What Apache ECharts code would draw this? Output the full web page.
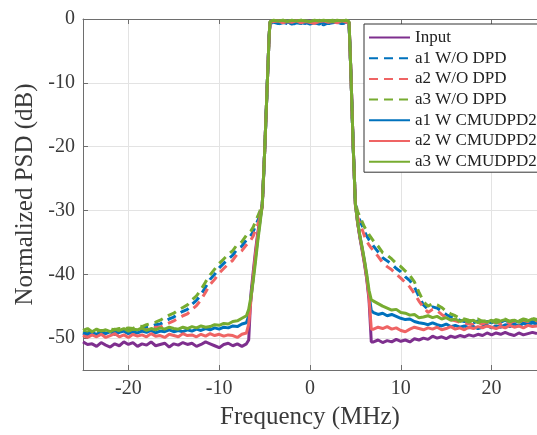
<!DOCTYPE html>
<html>
<head>
<meta charset="utf-8">
<script src="https://cdn.jsdelivr.net/npm/echarts@6/dist/echarts.min.js"></script>
<style>
html,body{margin:0;padding:0;background:#fff;}
#chart{width:537px;height:435px;}
</style>
</head>
<body>
<div id="chart"></div>
<script>
// Frequency grid (MHz)
var freq = [
 -25,-24.5,-24,-23.5,-23,-22.5,-22,-21.5,-21,-20.5,-20,-19.5,-19,-18.5,-18,-17.5,-17,-16.5,-16,-15.5,-15,-14.5,-14,-13.5,-13,-12.5,-12,-11.5,-11,-10.5,-10,-9.5,-9,-8.5,-8,-7.5,-7,
 -6.75,-6.5,-6.25,-6,-5.75,-5.5,-5.25,-5,-4.75,-4.5,-4.4,
 -4,-3.5,-3,-2.5,-2,-1.5,-1,-0.5,0,0.5,1,1.5,2,2.5,3,3.5,4,
 4.3,4.5,4.75,5,5.25,5.5,5.75,6,6.25,6.5,6.75,
 7,7.5,8,8.5,9,9.5,10,10.5,11,11.5,12,12.5,13,13.5,14,14.5,15,15.5,16,16.5,17,17.5,18,18.5,19,19.5,20,20.5,21,21.5,22,22.5,23,23.5,24,24.5,25
];

var seriesNames = ['Input','a1 W/O DPD','a2 W/O DPD','a3 W/O DPD','a1 W CMUDPD2','a2 W CMUDPD2','a3 W CMUDPD2'];
var xTicks = [-20,-10,0,10,20];
var yTicks = [-50,-40,-30,-20,-10,0];

var psdInput = [
 -50.6,-51.0,-50.9,-51.3,-50.7,-51.1,-51.4,-50.9,-51.2,-50.6,-51.0,-50.7,-51.3,-50.9,-51.1,-50.6,-51.2,-51.0,-50.8,-51.4,-50.9,-51.1,-50.7,-51.0,-50.8,-51.3,-51.0,-50.6,-50.9,-51.2,-51.5,-51.0,-50.8,-51.2,-50.9,-51.3,-50.9,
 -50.3,-43.0,-39.6,-36.3,-33.5,-31.2,-28.9,-21.0,-11.8,-2.6,-0.5,
 -0.3,-0.4,-0.3,-0.5,-0.4,-0.3,-0.4,-0.5,-0.3,-0.4,-0.3,-0.5,-0.4,-0.3,-0.4,-0.3,-0.4,
 -0.6,-8.2,-19.7,-29.0,-32.0,-34.3,-36.3,-38.4,-40.8,-44.0,-50.6,
 -50.6,-50.3,-50.7,-50.4,-50.6,-50.2,-50.5,-50.3,-50.6,-50.1,-50.3,-50.0,-50.2,-49.7,-50.0,-49.8,-50.1,-49.7,-49.9,-49.6,-49.8,-49.5,-49.7,-49.4,-49.6,-49.2,-49.5,-49.2,-49.4,-49.1,-49.4,-49.6,-49.2,-49.5,-49.3,-49.1,-49.3
];
var psdA1NoDpd = [
 -49.2,-49.4,-49.0,-49.3,-49.1,-49.2,-48.9,-49.1,-48.8,-49.0,-48.7,-48.8,-48.5,-48.6,-48.3,-48.2,-47.9,-47.8,-47.4,-47.0,-46.7,-46.2,-45.8,-45.5,-44.7,-44.1,-43.2,-42.0,-40.8,-40.0,-39.0,-38.3,-37.6,-37.0,-36.0,-35.6,-34.6,
 -34.3,-33.9,-33.3,-32.4,-31.6,-30.5,-29.2,-21.0,-11.8,-2.6,-0.6,
 -0.6,-0.8,-0.5,-0.7,-0.9,-0.6,-0.7,-0.5,-0.8,-0.6,-0.7,-0.9,-0.6,-0.8,-0.5,-0.7,-0.6,
 -0.6,-8.2,-19.7,-29.0,-30.6,-31.6,-32.4,-33.3,-34.0,-34.6,-35.1,
 -35.6,-36.5,-37.4,-37.9,-38.4,-39.1,-39.6,-40.4,-41.0,-42.0,-43.5,-44.8,-45.5,-45.1,-45.3,-45.8,-46.3,-46.7,-46.9,-47.2,-47.4,-47.5,-47.6,-47.3,-47.7,-47.4,-47.6,-47.3,-47.5,-47.2,-47.6,-47.3,-47.5,-47.1,-47.4,-47.2,-47.3
];
var psdA2NoDpd = [
 -49.5,-49.7,-49.3,-49.6,-49.4,-49.5,-49.2,-49.4,-49.1,-49.3,-49.0,-49.1,-48.8,-48.9,-48.7,-48.6,-48.3,-48.3,-47.9,-47.6,-47.3,-46.9,-46.5,-46.2,-45.5,-44.9,-44.0,-42.8,-41.6,-40.8,-39.8,-39.1,-38.4,-37.8,-36.8,-36.3,-35.4,
 -35.0,-34.6,-34.0,-33.0,-32.2,-31.0,-29.5,-21.0,-11.8,-2.6,-0.5,
 -0.4,-0.6,-0.3,-0.5,-0.7,-0.4,-0.3,-0.6,-0.5,-0.3,-0.4,-0.6,-0.3,-0.5,-0.4,-0.6,-0.3,
 -0.5,-8.2,-19.7,-29.2,-31.0,-32.2,-33.0,-34.0,-34.8,-35.4,-35.9,
 -36.3,-37.2,-38.2,-38.8,-39.3,-40.0,-40.6,-41.3,-42.0,-43.0,-44.2,-45.2,-46.0,-45.5,-45.7,-46.3,-46.8,-47.1,-47.3,-47.5,-47.7,-47.8,-47.9,-47.6,-47.9,-47.7,-47.9,-47.5,-47.8,-47.4,-47.8,-47.5,-47.7,-47.3,-47.6,-47.4,-47.5
];
var psdA3NoDpd = [
 -48.9,-49.1,-48.7,-49.0,-48.8,-48.8,-48.6,-48.7,-48.5,-48.6,-48.4,-48.5,-48.1,-48.2,-47.9,-47.7,-47.5,-47.2,-46.8,-46.4,-46.1,-45.6,-45.2,-44.8,-44.0,-43.4,-42.4,-41.2,-40.1,-39.2,-38.3,-37.6,-36.9,-36.3,-35.3,-34.9,-33.9,
 -33.6,-33.2,-32.6,-31.7,-30.9,-30.0,-28.8,-21.0,-11.8,-2.6,-0.4,
 -0.3,-0.5,-0.2,-0.4,-0.3,-0.5,-0.2,-0.4,-0.3,-0.5,-0.2,-0.4,-0.3,-0.2,-0.4,-0.3,-0.2,
 -0.4,-8.2,-19.7,-28.8,-30.2,-31.0,-31.8,-32.6,-33.2,-33.8,-34.3,
 -34.8,-35.6,-36.6,-37.0,-37.6,-38.3,-38.8,-39.5,-40.2,-41.2,-42.8,-44.3,-45.0,-44.6,-44.8,-45.2,-45.8,-46.2,-46.5,-46.9,-47.0,-47.2,-47.3,-47.0,-47.4,-47.2,-47.5,-47.1,-47.3,-47.0,-47.4,-47.1,-47.3,-47.0,-47.2,-46.9,-47.1
];
var psdA1Dpd = [
 -49.2,-49.4,-49.0,-49.5,-49.1,-49.3,-49.0,-49.4,-49.1,-48.9,-49.3,-49.0,-49.2,-48.9,-49.1,-48.8,-49.2,-48.9,-49.0,-48.7,-49.0,-48.8,-49.0,-48.7,-48.9,-48.6,-48.8,-48.5,-48.7,-48.4,-48.6,-48.3,-48.4,-48.1,-48.2,-47.8,-47.6,
 -46.5,-43.8,-40.5,-37.3,-34.3,-31.6,-28.9,-21.0,-11.8,-2.6,-0.5,
 -0.5,-0.7,-0.6,-0.4,-0.8,-0.5,-0.6,-0.7,-0.4,-0.6,-0.8,-0.5,-0.7,-0.6,-0.4,-0.7,-0.5,
 -0.5,-8.2,-19.7,-29.0,-31.9,-34.1,-36.0,-38.0,-40.4,-43.2,-45.7,
 -46.0,-46.3,-46.1,-46.5,-46.3,-46.6,-46.9,-47.1,-47.0,-47.4,-47.6,-47.7,-47.9,-47.6,-47.9,-48.1,-47.8,-48.2,-48.0,-48.3,-48.1,-48.4,-48.2,-48.5,-48.3,-48.0,-48.4,-48.1,-48.3,-47.9,-48.2,-47.8,-48.1,-47.7,-47.9,-47.6,-47.8
];
var psdA2Dpd = [
 -49.6,-49.9,-49.5,-49.8,-49.4,-49.9,-49.6,-49.3,-49.8,-49.5,-49.9,-49.4,-49.7,-49.5,-49.8,-49.3,-49.7,-49.6,-49.9,-49.4,-49.6,-49.8,-49.3,-49.6,-49.5,-49.8,-49.4,-49.7,-49.3,-49.6,-49.4,-49.7,-49.5,-49.6,-49.9,-49.4,-49.2,
 -47.8,-44.0,-40.2,-36.8,-33.9,-31.4,-28.9,-21.0,-11.8,-2.6,-0.5,
 -0.4,-0.3,-0.6,-0.4,-0.5,-0.3,-0.6,-0.4,-0.5,-0.7,-0.4,-0.3,-0.5,-0.4,-0.6,-0.3,-0.5,
 -0.5,-8.2,-19.7,-29.0,-32.0,-34.2,-36.1,-38.2,-40.6,-43.6,-48.6,
 -48.6,-48.3,-48.5,-48.2,-48.6,-48.4,-48.8,-49.0,-48.6,-48.3,-48.5,-48.7,-48.4,-48.6,-48.3,-48.7,-48.5,-48.2,-48.6,-48.4,-48.7,-48.3,-48.5,-48.2,-48.4,-48.1,-48.3,-48.5,-48.2,-48.4,-48.0,-48.3,-48.1,-48.4,-48.0,-48.2,-48.1
];
var psdA3Dpd = [
 -48.8,-48.5,-49.0,-48.6,-48.9,-48.7,-49.0,-48.6,-48.8,-48.5,-48.9,-48.6,-48.7,-48.4,-48.8,-48.5,-48.7,-48.4,-48.6,-48.3,-48.5,-48.6,-48.3,-48.5,-48.2,-48.4,-48.1,-48.3,-48.2,-47.9,-48.0,-47.7,-47.8,-47.4,-47.3,-46.9,-46.5,
 -45.5,-43.5,-41.0,-38.0,-34.8,-32.0,-29.0,-21.0,-11.8,-2.6,-0.4,
 -0.2,-0.3,-0.2,-0.4,-0.2,-0.3,-0.2,-0.3,-0.4,-0.2,-0.3,-0.2,-0.3,-0.4,-0.2,-0.3,-0.2,
 -0.4,-8.2,-19.7,-29.0,-31.8,-34.0,-35.8,-37.8,-40.0,-42.5,-44.0,
 -44.2,-44.6,-45.0,-45.3,-45.6,-45.5,-46.0,-46.1,-46.4,-46.3,-46.8,-46.7,-46.5,-46.8,-46.6,-47.0,-46.8,-47.2,-47.0,-47.4,-47.1,-47.5,-47.2,-47.6,-47.3,-47.5,-47.2,-47.6,-47.3,-47.1,-47.4,-47.2,-47.5,-47.1,-47.3,-47.0,-47.2
];

var seriesValues = [psdInput, psdA1NoDpd, psdA2NoDpd, psdA3NoDpd, psdA1Dpd, psdA2Dpd, psdA3Dpd];
var seriesColors = ['#7E2F8E','#0072BD','#EF6464','#77AC30','#0072BD','#EF6464','#77AC30'];
var seriesDashed = [false,true,true,true,false,false,false];

var FONT = "'Liberation Serif','Times New Roman',serif";
var TXT = '#3a3a3a';
var AX = '#6e6e6e';

function pairs(vals){ return freq.map(function(x,i){ return [x, vals[i]]; }); }

var series = seriesNames.map(function(n,k){
  return {
    name: n, type: 'line', data: pairs(seriesValues[k]),
    symbol: 'none', showSymbol: false, smooth: false,
    lineStyle: { color: seriesColors[k], width: 3, type: seriesDashed[k] ? [9,6] : 'solid' },
    itemStyle: { color: seriesColors[k] },
    emphasis: { disabled: true }, clip: true
  };
});

var chart = echarts.init(document.getElementById('chart'), null, {renderer:'canvas'});
chart.setOption({
  animation: false,
  backgroundColor: '#ffffff',
  grid: { left: 83, right: -9, top: 19, bottom: 65, containLabel: false },
  legend: {
    orient: 'vertical', left: 364, top: 24,
    padding: [5, 40, 2, 4],
    itemWidth: 41, itemHeight: 14, itemGap: 3.7,
    backgroundColor: '#ffffff', borderColor: '#333333', borderWidth: 1,
    itemStyle: { color: 'rgba(0,0,0,0)', borderWidth: 0, opacity: 0 },
    textStyle: { fontFamily: FONT, fontSize: 17, color: '#222222', lineHeight: 17 },
    data: seriesNames
  },
  xAxis: [{
    type: 'value', min: -25, max: 25,
    name: 'Frequency (MHz)', nameLocation: 'middle', nameGap: 35,
    nameTextStyle: { fontFamily: FONT, fontSize: 25, color: TXT },
    axisLine: { show: true, onZero: false, lineStyle: { color: AX, width: 1 } },
    axisTick: { show: true, inside: true, length: 5, customValues: xTicks, lineStyle: { color: AX } },
    axisLabel: { customValues: xTicks, fontFamily: FONT, fontSize: 20, color: TXT, margin: 9 },
    splitLine: { show: true, lineStyle: { color: '#e3e3e3', width: 1 } }
  }, {
    type: 'value', min: -25, max: 25, position: 'top',
    axisLine: { show: true, onZero: false, lineStyle: { color: AX, width: 1 } },
    axisTick: { show: true, inside: true, length: 5, customValues: xTicks, lineStyle: { color: AX } },
    axisLabel: { show: false },
    splitLine: { show: false }
  }],
  yAxis: {
    type: 'value', min: -55, max: 0,
    name: 'Normalized PSD (dB)', nameLocation: 'middle', nameGap: 38,
    nameTextStyle: { fontFamily: FONT, fontSize: 25, color: TXT },
    axisLine: { show: true, onZero: false, lineStyle: { color: AX, width: 1 } },
    axisTick: { show: true, inside: true, length: 5, customValues: yTicks, lineStyle: { color: AX } },
    axisLabel: { customValues: yTicks, fontFamily: FONT, fontSize: 20, color: TXT, margin: 8 },
    splitLine: { show: true, lineStyle: { color: '#e3e3e3', width: 1 } }
  },
  series: series
});
</script>
</body>
</html>
